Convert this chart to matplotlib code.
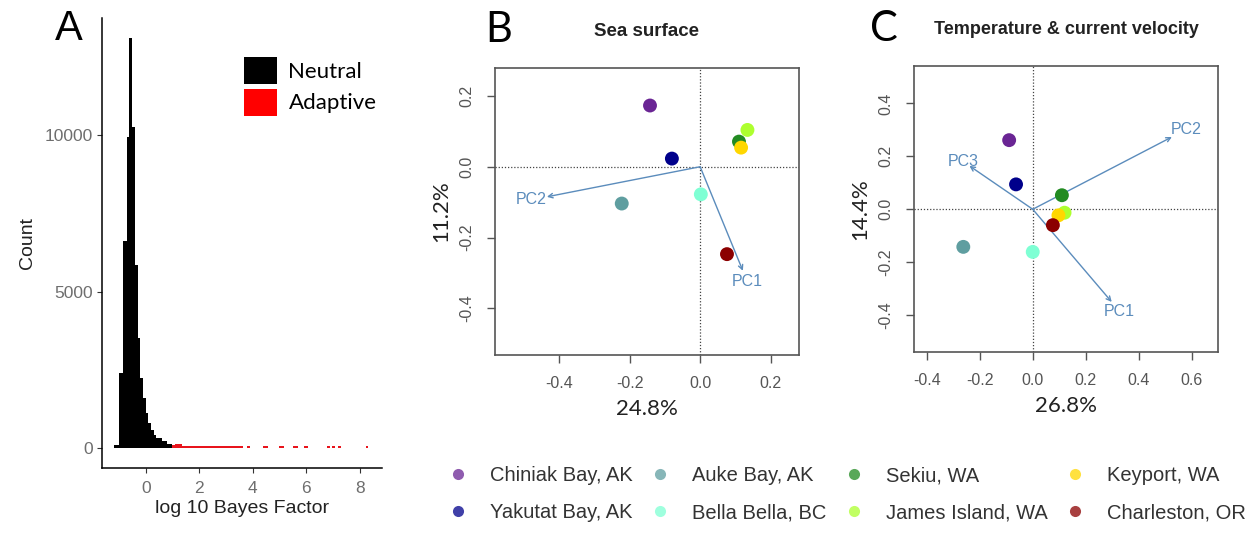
import numpy as np
import matplotlib.pyplot as plt
from matplotlib.patches import Patch
from matplotlib.lines import Line2D

plt.rcParams["font.family"] = ["Liberation Sans", "DejaVu Sans"]

# ---- panel A: histogram of log10 Bayes factors ----
neutral_edges = [-1.2, -1.0, -0.85, -0.7, -0.62, -0.53, -0.42, -0.32, -0.22, -0.12,
                 -0.02, 0.08, 0.18, 0.28, 0.38, 0.58, 0.78, 0.98]
neutral_counts = [100, 2400, 6600, 9950, 13100, 10270, 5850, 3500, 2230, 1600,
                  1120, 800, 585, 425, 320, 210, 130]
adaptive_left = [0.98, 1.1, 1.35, 1.6, 2.0, 2.5, 3.0,
                 3.78, 4.38, 4.98, 5.5, 5.92, 6.78, 6.97, 7.18, 8.25]
adaptive_width = [0.12, 0.25, 0.25, 0.4, 0.5, 0.5, 0.62,
                  0.12, 0.2, 0.2, 0.18, 0.13, 0.1, 0.1, 0.14, 0.08]
adaptive_counts = [80, 130, 75, 70, 65, 65, 60,
                   65, 65, 65, 65, 65, 65, 65, 65, 65]

# ---- panels B, C: PCA of sites ----
sites = ["Chiniak Bay, AK", "Yakutat Bay, AK", "Auke Bay, AK", "Bella Bella, BC",
         "Sekiu, WA", "James Island, WA", "Keyport, WA", "Charleston, OR"]
site_colors = ["#6a2594", "#00008b", "#5f9ea0", "#7fffd4",
               "#228b22", "#adff2f", "#ffd700", "#8b0000"]

sea_x = [-0.142, -0.080, -0.222, 0.002, 0.110, 0.134, 0.116, 0.076]
sea_y = [0.173, 0.023, -0.104, -0.078, 0.071, 0.104, 0.054, -0.247]
sea_pcs = ["PC1", "PC2"]
sea_pc_x = [0.121, -0.434]
sea_pc_y = [-0.294, -0.085]

tc_x = [-0.089, -0.063, -0.262, 0.0, 0.110, 0.120, 0.097, 0.076]
tc_y = [0.261, 0.094, -0.142, -0.161, 0.053, -0.013, -0.023, -0.060]
tc_pcs = ["PC1", "PC2", "PC3"]
tc_pc_x = [0.298, 0.525, -0.239]
tc_pc_y = [-0.350, 0.273, 0.164]

W, H = 1255, 550
arrow_col = "#5b8cbc"
grey = "#555555"


def fx(px):
    return px / W


def fy(py):
    return 1 - py / H


def box(left, top, right, bottom):
    return [fx(left), fy(bottom), fx(right) - fx(left), fy(top) - fy(bottom)]


fig = plt.figure(figsize=(W / 100, H / 100), dpi=100)

# ---------------- A ----------------
axA = fig.add_axes(box(102, 18, 382, 468))
axA.bar(neutral_edges[:-1], neutral_counts, width=np.diff(neutral_edges),
        align="edge", color="black", linewidth=0)
axA.bar(adaptive_left, adaptive_counts, width=adaptive_width,
        align="edge", color="#e8141c", linewidth=0)
axA.set_xlim(-1.65, 8.84)
axA.set_ylim(-640, 13740)
axA.set_xticks([0, 2, 4, 6, 8])
axA.set_yticks([0, 5000, 10000])
for s in ["top", "right"]:
    axA.spines[s].set_visible(False)
for s in ["left", "bottom"]:
    axA.spines[s].set_linewidth(1.1)
axA.tick_params(length=3.5, color="#333333", labelsize=12.5, labelcolor="#6e6e6e",
                width=0.8, pad=3)
axA.tick_params(axis="x", pad=6)
axA.set_xlabel("log 10 Bayes Factor", fontsize=14, color="#222222", labelpad=3)
axA.set_ylabel("Count", fontsize=14, color="#222222", labelpad=6)
hA = [Patch(facecolor="black"), Patch(facecolor="#ff0000")]
axA.legend(hA, ["Neutral", "Adaptive"], loc="upper left",
           bbox_to_anchor=(fx(244), fy(57)), bbox_transform=fig.transFigure,
           frameon=False, borderpad=0, borderaxespad=0, handlelength=1.5,
           handleheight=1.5, handletextpad=0.5, labelspacing=0.2,
           prop={"family": "Lato", "size": 16})
fig.text(fx(69), fy(29), "A", fontsize=30, ha="center", va="center")


# ---------------- B & C ----------------
def pca_panel(ax, xs, ys, pcs, pcx, pcy, xlim, ylim, xticks, yticks, xlab, ylab):
    ax.axhline(0, color="#444444", lw=0.9, ls=(0, (1, 1.5)), zorder=1)
    ax.axvline(0, color="#444444", lw=0.9, ls=(0, (1, 1.5)), zorder=1)
    for name, ex, ey in zip(pcs, pcx, pcy):
        ax.annotate("", xy=(ex, ey), xytext=(0, 0),
                    arrowprops=dict(arrowstyle="->", color=arrow_col, lw=1.0,
                                    mutation_scale=8, shrinkA=0, shrinkB=0),
                    zorder=2)
        ax.text(ex * 1.1, ey * 1.1, name, color=arrow_col, fontsize=11.5,
                ha="center", va="center")
    ax.scatter(xs, ys, c=site_colors, s=100, linewidths=0, zorder=3)
    ax.set_xlim(*xlim)
    ax.set_ylim(*ylim)
    ax.set_xticks(xticks)
    ax.set_yticks(yticks)
    ax.set_xticklabels([f"{t:.1f}" for t in xticks])
    ax.set_yticklabels([f"{t:.1f}" for t in yticks])
    for s in ax.spines.values():
        s.set_color(grey)
        s.set_linewidth(1.2)
    ax.tick_params(direction="out", length=6, width=1, color=grey,
                   labelsize=11.5, labelcolor=grey)
    ax.tick_params(axis="x", pad=9)
    ax.tick_params(axis="y", pad=9, labelrotation=90)
    for lbl in ax.get_yticklabels():
        lbl.set_va("center")
    ax.set_xlabel(xlab, fontsize=16, family="Lato", color="#222222", labelpad=6)
    ax.set_ylabel(ylab, fontsize=16, family="Lato", color="#222222", labelpad=6)


axB = fig.add_axes(box(495, 68, 799, 355))
pca_panel(axB, sea_x, sea_y, sea_pcs, sea_pc_x, sea_pc_y,
          (-0.581, 0.28), (-0.532, 0.279),
          [-0.4, -0.2, 0.0, 0.2], [-0.4, -0.2, 0.0, 0.2], "24.8%", "11.2%")

axC = fig.add_axes(box(914, 66, 1218, 352))
pca_panel(axC, tc_x, tc_y, tc_pcs, tc_pc_x, tc_pc_y,
          (-0.448, 0.699), (-0.539, 0.541),
          [-0.4, -0.2, 0.0, 0.2, 0.4, 0.6], [-0.4, -0.2, 0.0, 0.2, 0.4],
          "26.8%", "14.4%")

fig.text(fx(499), fy(30), "B", fontsize=30, ha="center", va="center", family="Lato")
fig.text(fx(884), fy(29), "C", fontsize=30, ha="center", va="center", family="Lato")
fig.text(fx(647), fy(31), "Sea surface", fontsize=13.5, fontweight="bold",
         ha="center", va="center", color="#222222")
fig.text(fx(1066), fy(30), "Temperature & current velocity", fontsize=13,
         fontweight="bold", ha="center", va="center", color="#222222")

# site legend
handles = [Line2D([], [], ls="none", marker="o", markersize=8, color=c, alpha=0.75,
                  markeredgewidth=0) for c in site_colors]
fig.legend(handles, sites, ncol=4, loc="upper left",
           bbox_to_anchor=(fx(448), fy(466)), frameon=False, borderpad=0,
           borderaxespad=0, handlelength=1.0, handletextpad=1.1,
           columnspacing=0.85, labelspacing=0.9,
           prop={"size": 14.5}, labelcolor="#333333")

fig.savefig("out.png", dpi=100)
